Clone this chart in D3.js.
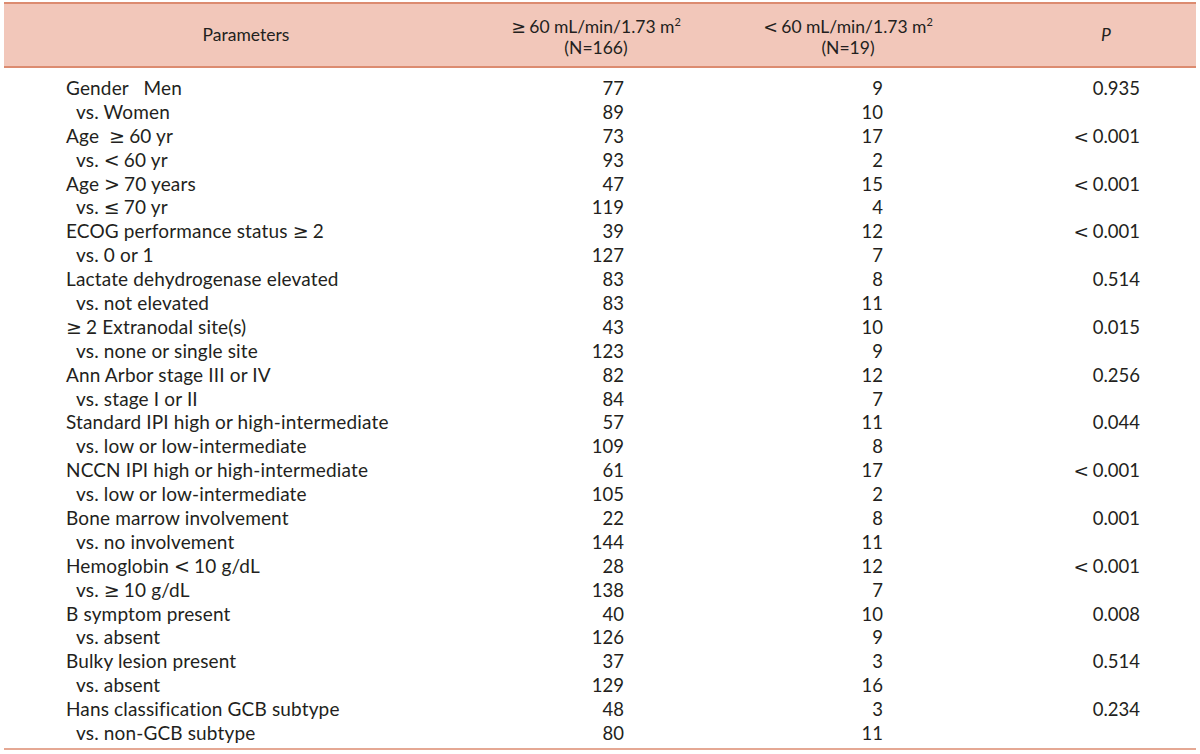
<!DOCTYPE html>
<html>
<head>
<meta charset="utf-8">
<script src="https://cdn.jsdelivr.net/npm/d3@7"></script>
<style>
  body { margin: 0; background: #fff; }
  text { font-family: Lato, "Noto Sans", sans-serif; fill: #231f20; white-space: pre; }
  .ge { font-family: "DejaVu Sans", sans-serif; }
</style>
</head>
<body>
<script>
// table content
const labels = [
  'Gender   Men', 'vs. Women',
  'Age  \u226560 yr', 'vs. <60 yr',
  'Age >70 years', 'vs. \u226470 yr',
  'ECOG performance status \u22652', 'vs. 0 or 1',
  'Lactate dehydrogenase elevated', 'vs. not elevated',
  '\u22652 Extranodal site(s)', 'vs. none or single site',
  'Ann Arbor stage III or IV', 'vs. stage I or II',
  'Standard IPI high or high-intermediate', 'vs. low or low-intermediate',
  'NCCN IPI high or high-intermediate', 'vs. low or low-intermediate',
  'Bone marrow involvement', 'vs. no involvement',
  'Hemoglobin <10 g/dL', 'vs. \u226510 g/dL',
  'B symptom present', 'vs. absent',
  'Bulky lesion present', 'vs. absent',
  'Hans classification GCB subtype', 'vs. non-GCB subtype'
]
const highGfr = [77, 89, 73, 93, 47, 119, 39, 127, 83, 83, 43, 123, 82, 84, 57, 109, 61, 105, 22, 144, 28, 138, 40, 126, 37, 129, 48, 80]
const lowGfr = [9, 10, 17, 2, 15, 4, 12, 7, 8, 11, 10, 9, 12, 7, 11, 8, 17, 2, 8, 11, 12, 7, 10, 9, 3, 16, 3, 11]
const pValues = ['0.935', '<0.001', '<0.001', '<0.001', '0.514', '0.015', '0.256', '0.044', '<0.001', '0.001', '<0.001', '0.008', '0.514', '0.234']

const width = 1200, height = 754
const lineColor = '#dc8b70'
const headFill = '#f2c7ba'
const symChars = /([\u2264\u2265<>])/

// write a string, giving the comparison signs their own font
function fill(sel, str) {
  str.split(symChars).filter(s => s.length).forEach(part => {
    if (symChars.test(part)) {
      sel.append('tspan').attr('class', 'ge').text(part + '\u2009')
    } else {
      sel.append('tspan').text(part)
    }
  })
}

const svg = d3.select('body').append('svg')
  .attr('width', width).attr('height', height)

// header band
svg.append('rect')
  .attr('x', 4).attr('y', 3).attr('width', 1192).attr('height', 64)
  .attr('fill', headFill)
svg.append('line').attr('x1', 4).attr('x2', 1196).attr('y1', 3).attr('y2', 3)
  .attr('stroke', lineColor).attr('stroke-width', 2)
svg.append('line').attr('x1', 4).attr('x2', 1196).attr('y1', 67).attr('y2', 67)
  .attr('stroke', lineColor).attr('stroke-width', 2)
svg.append('line').attr('x1', 4).attr('x2', 1196).attr('y1', 749).attr('y2', 749)
  .attr('stroke', lineColor).attr('stroke-width', 1.5)

// header text
const head = svg.append('g').style('font-size', '17.5px')
head.append('text').attr('x', 246).attr('y', 41).attr('text-anchor', 'middle').text('Parameters')

function gfrHead(cx, sign, n) {
  let t = head.append('text').attr('x', cx).attr('y', 33).attr('text-anchor', 'middle')
  fill(t, sign + '60 mL/min/1.73 m')
  t.append('tspan').attr('dy', -7).style('font-size', '11px').text('2')
  head.append('text').attr('x', cx).attr('y', 54).attr('text-anchor', 'middle').text('(N=' + n + ')')
}
gfrHead(596, '\u2265', 166)
gfrHead(848, '<', 19)
head.append('text').attr('x', 1106).attr('y', 41).attr('text-anchor', 'middle')
  .style('font-style', 'italic').text('P')

// rows
const y = d3.scaleBand()
  .domain(d3.range(labels.length))
  .range([77, 746])

const rows = svg.append('g').style('font-size', '18.5px')
  .selectAll('g').data(labels).join('g')
  .attr('transform', (d, i) => `translate(0,${y(i) + y.bandwidth() / 2 + 6})`)

rows.append('text')
  .attr('x', (d, i) => i % 2 ? 76 : 66)
  .style('font-size', '19px').style('letter-spacing', '0.15px')
  .each(function(d) { fill(d3.select(this), d) })
rows.append('text')
  .attr('x', 624).attr('text-anchor', 'end')
  .text((d, i) => highGfr[i])
rows.append('text')
  .attr('x', 883).attr('text-anchor', 'end')
  .text((d, i) => lowGfr[i])
rows.filter((d, i) => i % 2 == 0).append('text')
  .attr('x', 1140).attr('text-anchor', 'end')
  .each(function(d, i) { fill(d3.select(this), pValues[i]) })
</script>
</body>
</html>
